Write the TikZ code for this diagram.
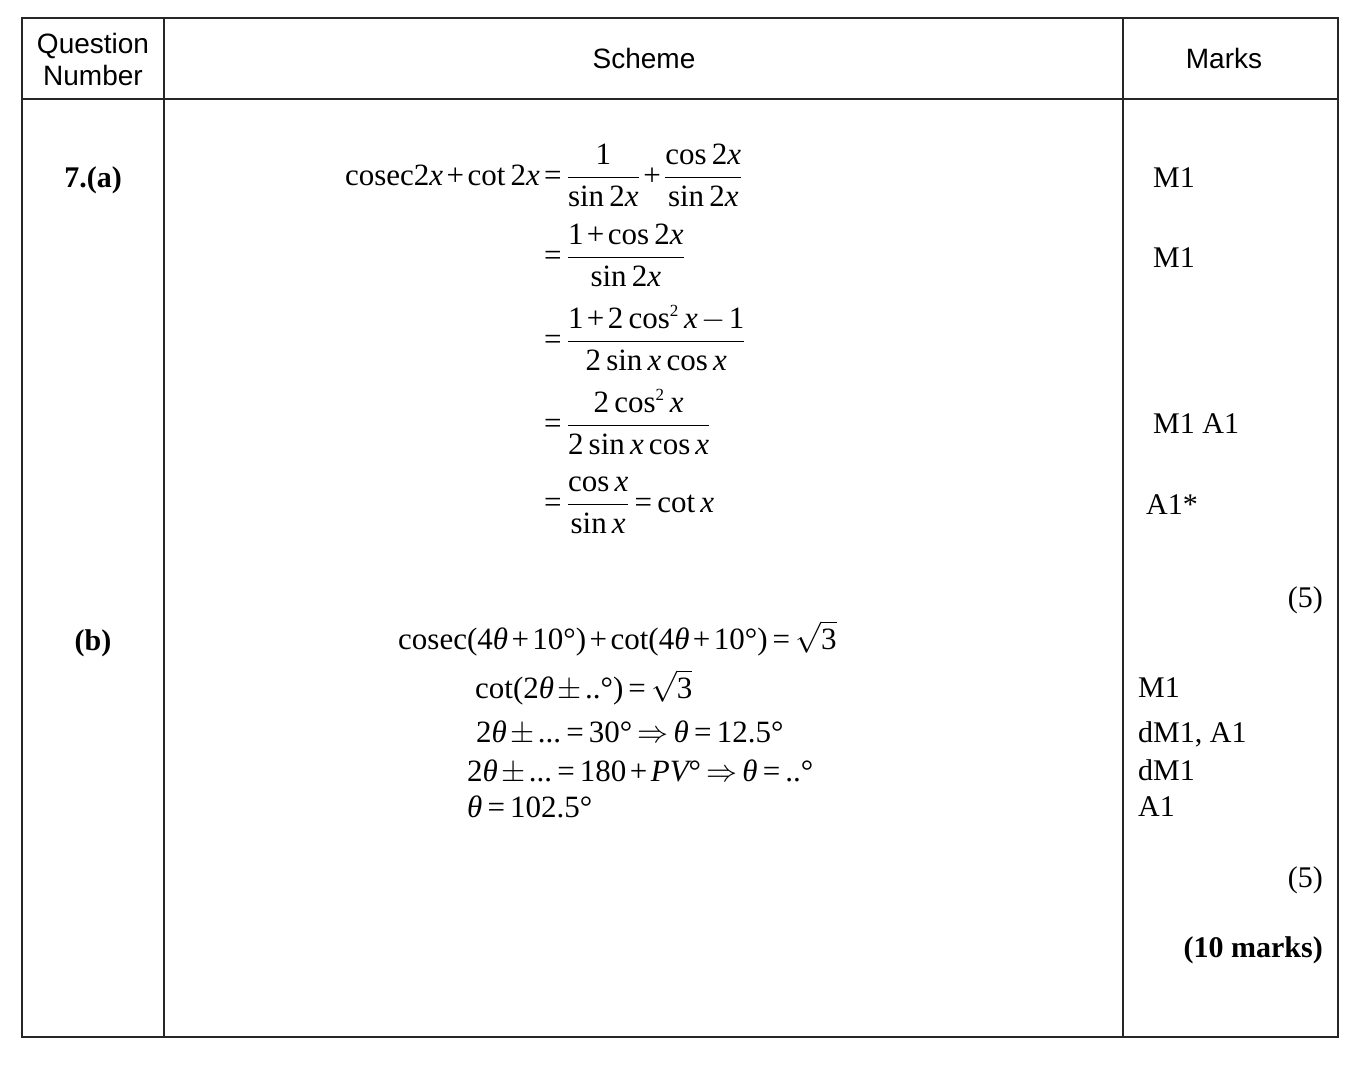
\RequirePackage{fix-cm}
\documentclass[tikz,border=0pt]{standalone}
\usepackage{amsmath}
\usepackage{fontspec}
\setmainfont{Liberation Serif}
\setsansfont{Liberation Sans}
\usetikzlibrary{positioning}

% Times-like digits and signs in maths
\DeclareSymbolFont{tmup}{TU}{\rmdefault}{m}{n}
\DeclareMathSizes{31}{31}{17}{12}
\newcommand{\tmdigits}{%
  \Umathcode`0="7 \symtmup `0 \Umathcode`1="7 \symtmup `1
  \Umathcode`2="7 \symtmup `2 \Umathcode`3="7 \symtmup `3
  \Umathcode`4="7 \symtmup `4 \Umathcode`5="7 \symtmup `5
  \Umathcode`6="7 \symtmup `6 \Umathcode`7="7 \symtmup `7
  \Umathcode`8="7 \symtmup `8 \Umathcode`9="7 \symtmup `9
  \Umathcode`+="2 \symtmup `+ \Umathcode`=="3 \symtmup `=
  \Umathcode`(="4 \symtmup `( \Umathcode`)="5 \symtmup `)
  \Umathcode`.="0 \symtmup `.\relax}

\newcommand{\vx}{\textit{x}}
\newcommand{\vth}{\textit{θ}}
\newcommand{\dg}{\mbox{°}}
\newcommand{\tightmath}{\medmuskip=2mu\relax\thickmuskip=3mu\relax\tmdigits}

\tikzset{
  hdr/.style={font=\sffamily\fontsize{28}{32}\selectfont, inner sep=0pt, align=center},
  qnum/.style={font=\bfseries\fontsize{30}{36}\selectfont, inner sep=0pt, anchor=base},
  sch/.style={font=\fontsize{31}{37}\selectfont\tightmath, inner sep=0pt, anchor=base west},
  marktext/.style={font=\fontsize{30}{36}\selectfont, inner sep=0pt, anchor=base west},
  rule/.style={line width=1.6pt, black!85},
}

\begin{document}
\begin{tikzpicture}[x=1pt,y=-1pt]
  \useasboundingbox (0,0) rectangle (1365,1066);
  % table
  \draw[rule] (22,18) rectangle (1338,1037);
  \draw[rule] (22,99) -- (1338,99);
  \draw[rule] (164,18) -- (164,1037);
  \draw[rule] (1123,18) -- (1123,1037);
  % header
  \node[hdr] (qhead) at (93,59) {Question\\Number};
  \node[hdr, anchor=base] (shead) at (644,68) {Scheme};
  \node[hdr, anchor=base] (mhead) at (1224,68) {Marks};
  % question numbers
  \node[qnum] (qa) at (93,187) {7.(a)};
  \node[qnum] (qb) at (93,650) {(b)};
  % part (a)
  \node[sch, anchor=base east] (lhs) at (540,185) {$\mathrm{cosec}2\vx+\cot 2\vx$};
  \node[sch] (a1) at (544,185) {$=\dfrac{1}{\sin 2\vx}+\dfrac{\cos 2\vx}{\sin 2\vx}$};
  \node[sch] (a2) at (544,265) {$=\dfrac{1+\cos 2\vx}{\sin 2\vx}$};
  \node[sch] (a3) at (544,349) {$=\dfrac{1+2\cos^2\vx-1}{2\sin\vx\cos\vx}$};
  \node[sch] (a4) at (544,433) {$=\dfrac{2\cos^2\vx}{2\sin\vx\cos\vx}$};
  \node[sch] (a5) at (544,512) {$=\dfrac{\cos\vx}{\sin\vx}=\cot\vx$};
  % part (b)
  \node[sch] (b1) at (398,649) {$\mathrm{cosec}(4\vth+10\dg)+\cot(4\vth+10\dg)=\smash[b]{\sqrt{3}}$};
  \node[sch] (b2) at (475,698) {$\cot(2\vth\pm..\dg)=\smash[b]{\sqrt{3}}$};
  \node[sch] (b3) at (476,742) {$2\vth\pm...=30\dg\Rightarrow\vth=12.5\dg$};
  \node[sch] (b4) at (467,781) {$2\vth\pm...=180+\textit{PV}\dg\Rightarrow\vth=..\dg$};
  \node[sch] (b5) at (467,817) {$\vth=102.5\dg$};
  % marks
  \node[marktext] (ma1) at (1153,187) {M1};
  \node[marktext] (ma2) at (1153,267) {M1};
  \node[marktext] (ma3) at (1153,433) {M1 A1};
  \node[marktext] (ma4) at (1146,514) {A1*};
  \node[marktext, anchor=base east] (tota) at (1323,607) {(5)};
  \node[marktext] (mb1) at (1138,697) {M1};
  \node[marktext] (mb2) at (1138,742) {dM1, A1};
  \node[marktext] (mb3) at (1138,780) {dM1};
  \node[marktext] (mb4) at (1138,816) {A1};
  \node[marktext, anchor=base east] (totb) at (1323,887) {(5)};
  \node[marktext, anchor=base east, font=\bfseries\fontsize{30}{36}\selectfont] (total) at (1323,957) {(10 marks)};
\end{tikzpicture}
\end{document}
